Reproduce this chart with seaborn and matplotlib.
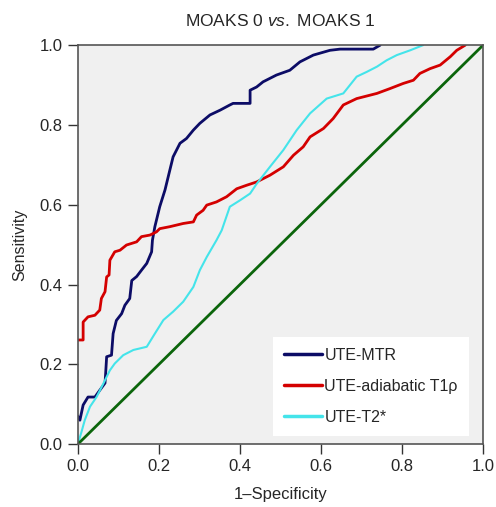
import pandas as pd
import matplotlib
matplotlib.use("Agg")
import matplotlib.pyplot as plt
import seaborn as sns

# ROC curves (1-specificity, sensitivity)
mtr_fpr = [0.0, 0.005, 0.013, 0.025, 0.042, 0.054, 0.067, 0.069, 0.071, 0.083,
           0.087, 0.095, 0.108, 0.116, 0.128, 0.133, 0.145, 0.157, 0.17, 0.182,
           0.184, 0.19, 0.202, 0.215, 0.227, 0.235, 0.252, 0.268, 0.285, 0.301,
           0.326, 0.351, 0.375, 0.383, 0.425, 0.425, 0.441, 0.457, 0.49, 0.523,
           0.548, 0.581, 0.622, 0.647, 0.729, 0.746]
mtr_tpr = [0.07, 0.06, 0.098, 0.118, 0.118, 0.135, 0.153, 0.185, 0.219, 0.223,
           0.277, 0.31, 0.327, 0.348, 0.365, 0.41, 0.42, 0.436, 0.453, 0.482,
           0.511, 0.545, 0.595, 0.637, 0.687, 0.72, 0.754, 0.766, 0.787, 0.804,
           0.825, 0.837, 0.85, 0.854, 0.854, 0.887, 0.895, 0.908, 0.925, 0.937,
           0.958, 0.975, 0.987, 0.99, 0.99, 1.0]

adi_fpr = [0.0, 0.013, 0.013, 0.025, 0.042, 0.054, 0.058, 0.067, 0.071, 0.077,
           0.079, 0.091, 0.104, 0.12, 0.145, 0.157, 0.178, 0.194, 0.202, 0.227,
           0.26, 0.285, 0.293, 0.309, 0.318, 0.342, 0.367, 0.392, 0.417, 0.441,
           0.474, 0.507, 0.532, 0.556, 0.573, 0.606, 0.63, 0.655, 0.688, 0.738,
           0.77, 0.803, 0.828, 0.844, 0.869, 0.894, 0.919, 0.935, 0.956]
adi_tpr = [0.261, 0.261, 0.306, 0.319, 0.323, 0.336, 0.365, 0.382, 0.419, 0.424,
           0.461, 0.482, 0.486, 0.499, 0.507, 0.52, 0.524, 0.532, 0.54, 0.545,
           0.553, 0.557, 0.574, 0.586, 0.599, 0.607, 0.62, 0.64, 0.649, 0.657,
           0.674, 0.695, 0.724, 0.745, 0.77, 0.791, 0.816, 0.85, 0.866, 0.879,
           0.891, 0.904, 0.912, 0.929, 0.941, 0.95, 0.971, 0.987, 1.0]

t2_fpr = [0.0, 0.009, 0.017, 0.03, 0.046, 0.063, 0.079, 0.091, 0.112, 0.137, 0.17,
          0.19, 0.211, 0.235, 0.26, 0.285, 0.301, 0.318, 0.342, 0.355, 0.375,
          0.4, 0.425, 0.441, 0.474, 0.507, 0.54, 0.573, 0.614, 0.655, 0.688,
          0.713, 0.738, 0.762, 0.787, 0.82, 0.852]
t2_tpr = [0.0, 0.031, 0.06, 0.094, 0.118, 0.152, 0.185, 0.202, 0.223, 0.236, 0.244,
          0.277, 0.311, 0.332, 0.357, 0.394, 0.436, 0.469, 0.511, 0.536, 0.595,
          0.611, 0.628, 0.652, 0.695, 0.737, 0.787, 0.829, 0.866, 0.879, 0.921,
          0.933, 0.946, 0.962, 0.975, 0.987, 1.0]

ref_fpr = [0.0, 1.0]
ref_tpr = [0.0, 1.0]

labels = ["UTE-MTR", "UTE-adiabatic T1\u03c1", "UTE-T2*"]
colors = ["#0c0c66", "#d40000", "#44e4ea"]
widths = [2.0, 2.0, 1.5]
ticks = [0, 0.2, 0.4, 0.6, 0.8, 1.0]
tick_labels = ["0.0", "0.2", "0.4", "0.6", "0.8", "1.0"]

frames = []
for lab, fpr, tpr in zip(labels, [mtr_fpr, adi_fpr, t2_fpr],
                         [mtr_tpr, adi_tpr, t2_tpr]):
    frames.append(pd.DataFrame({"fpr": fpr, "tpr": tpr, "method": lab}))
df = pd.concat(frames, ignore_index=True)

sns.set_style("ticks")
plt.rcParams["font.family"] = ["Liberation Sans", "DejaVu Sans"]
plt.rcParams["mathtext.fontset"] = "custom"
plt.rcParams["mathtext.it"] = "Liberation Sans:italic"
plt.rcParams["mathtext.rm"] = "Liberation Sans"

fig = plt.figure(figsize=(4.96, 5.07), dpi=100)
ax = fig.add_axes([0.157, 0.124, 0.817, 0.787])
ax.set_facecolor("#f0f0f0")

sns.lineplot(data=df, x="fpr", y="tpr", hue="method", hue_order=labels,
             palette=colors, estimator=None, sort=False,
             linewidth=2, ax=ax, legend=False)
for line, w in zip(ax.lines, widths):
    line.set_linewidth(w)
# reference diagonal
sns.lineplot(x=ref_fpr, y=ref_tpr, color="#0b650b", linewidth=2, ax=ax)

# legend
handles = [plt.Line2D([], [], color=c, linewidth=2.5) for c in colors]
leg = ax.legend(handles, labels, loc="lower right", bbox_to_anchor=(0.985, 0.0),
                frameon=True, fancybox=False, framealpha=1, edgecolor="white",
                fontsize=11.5, handlelength=2.4, handletextpad=0.15,
                labelspacing=1.0, borderpad=0.7)
leg.get_frame().set_linewidth(0)

ax.set_xlim(0, 1)
ax.set_ylim(0, 1)
ax.set_xticks(ticks)
ax.set_yticks(ticks)
ax.set_xticklabels(tick_labels)
ax.set_yticklabels(tick_labels)
ax.tick_params(labelsize=12, length=7, width=1, color="#333333",
               direction="out", pad=4)
for s in ax.spines.values():
    s.set_color("#555555")
    s.set_linewidth(1.2)

ax.set_xlabel("1\u2013Specificity", fontsize=12, labelpad=9)
ax.set_ylabel("Sensitivity", fontsize=11.5, labelpad=9)
ax.set_title(r"MOAKS 0 $\it{vs.}$ MOAKS 1", fontsize=12.5, pad=14)

fig.savefig("out.png", dpi=100)
